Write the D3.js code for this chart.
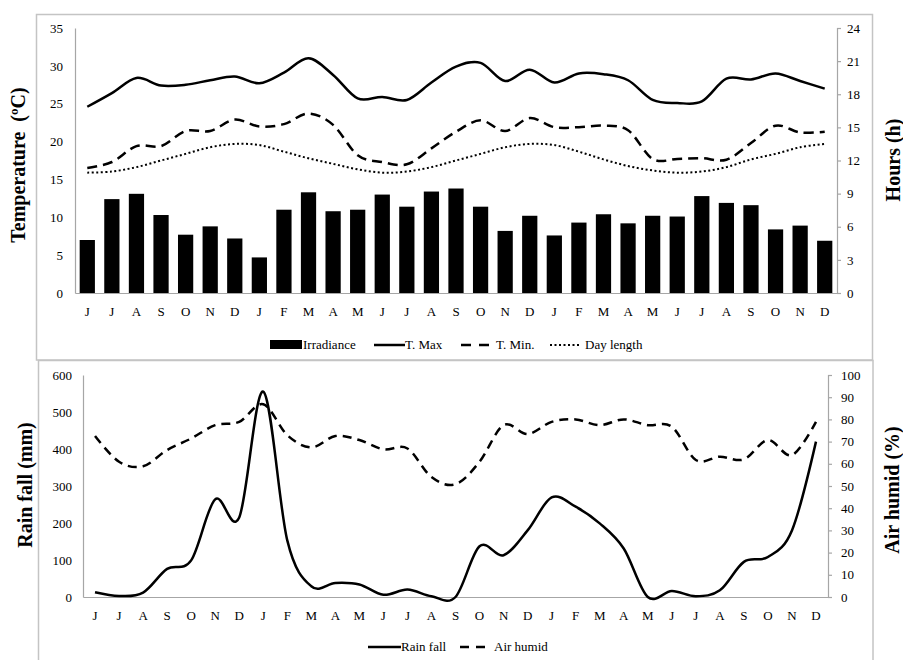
<!DOCTYPE html>
<html>
<head>
<meta charset="utf-8">
<script src="https://cdn.jsdelivr.net/npm/d3@7"></script>
<style>
body{margin:0;background:#fff;}
text{font-family:"Liberation Serif","Times New Roman",serif;fill:#000;}
</style>
</head>
<body>
<svg id="chart" width="903" height="660"></svg>
<script>
const months = ["J","J","A","S","O","N","D","J","F","M","A","M","J","J","A","S","O","N","D","J","F","M","A","M","J","J","A","S","O","N","D"];
const irradiance = [7.0,12.4,13.1,10.3,7.7,8.8,7.2,4.7,11.0,13.3,10.8,11.0,13.0,11.4,13.4,13.8,11.4,8.2,10.2,7.6,9.3,10.4,9.2,10.2,10.1,12.8,11.9,11.6,8.4,8.9,6.9];
const tMax = [24.6,26.4,28.4,27.4,27.5,28.1,28.6,27.7,29.1,31.0,28.8,25.7,25.9,25.5,27.8,29.9,30.4,28.0,29.5,27.8,29.0,28.9,28.1,25.5,25.1,25.3,28.3,28.2,29.0,28.0,27.0];
const tMin = [16.5,17.3,19.4,19.4,21.4,21.4,22.9,22.0,22.3,23.7,22.2,18.2,17.3,17.0,19.1,21.3,22.8,21.4,23.1,21.9,21.9,22.1,21.5,17.7,17.7,17.8,17.6,19.8,22.1,21.2,21.3];
const dayLength = [10.9,11.0,11.4,12.0,12.6,13.2,13.5,13.4,12.8,12.2,11.7,11.2,10.9,11.0,11.4,12.0,12.6,13.2,13.5,13.4,12.8,12.1,11.5,11.1,10.9,11.0,11.4,12.1,12.6,13.2,13.5];
const rainFall = [13,3,12,76,99,264,215,555,153,29,38,34,6,20,2,0,137,113,180,269,244,199,131,0,16,2,18,95,108,180,420];
const airHumid = [72.5,60.9,58.9,66.2,71.4,77.4,78.9,86.8,72.9,67.4,72.5,70.7,66.5,66.9,54,50.8,60.9,77.4,73.4,78.9,80,77.4,80,77.4,76.7,61.7,63.2,62,70.7,63.9,78.9];
const tempTicks = [0,5,10,15,20,25,30,35];
const hourTicks = [0,3,6,9,12,15,18,21,24];
const rainTicks = [0,100,200,300,400,500,600];
const humidTicks = [0,10,20,30,40,50,60,70,80,90,100];

const svg = d3.select("#chart");
const idx = d3.range(months.length);
const frameColor = "#c4c4c4", axisColor = "#a6a6a6";

// frames
svg.append("rect").attr("x",36.5).attr("y",14.5).attr("width",836).attr("height",345.5)
  .attr("fill","none").attr("stroke",frameColor).attr("stroke-width",1.5);
svg.append("rect").attr("x",38.5).attr("y",360.5).attr("width",834.5).attr("height",310)
  .attr("fill","none").attr("stroke",frameColor).attr("stroke-width",1.5);

function styleAxis(g, tickLen){
  g.select(".domain").attr("stroke",axisColor).attr("stroke-width",1.2);
  g.selectAll(".tick line").attr("stroke",axisColor).attr("stroke-width",1.2);
  g.selectAll("text").style("font-family","'Liberation Serif',serif").style("font-size","13px").attr("fill","#000");
}

// ===== TOP CHART =====
const T = {l:75, r:837, t:28, b:293};
const xb = d3.scaleBand().domain(idx).range([T.l,T.r]).paddingInner(0.38).paddingOuter(0.19);
const xp = d3.scaleBand().domain(idx).range([T.l,T.r]);
const xc = i => xp(i) + xp.bandwidth()/2;
const yT = d3.scaleLinear().domain([0,35]).range([T.b,T.t]);
const yH = d3.scaleLinear().domain([0,24]).range([T.b,T.t]);

svg.append("g").selectAll("rect").data(irradiance).join("rect")
  .attr("x",(d,i)=>xb(i)).attr("width",xb.bandwidth())
  .attr("y",d=>yT(d)).attr("height",d=>yT(0)-yT(d)).attr("fill","#000");

const gL = svg.append("g").attr("transform",`translate(${T.l},0)`)
  .call(d3.axisLeft(yT).tickValues(tempTicks).tickSize(0).tickPadding(12));
styleAxis(gL);
const gR = svg.append("g").attr("transform",`translate(${T.r},0)`)
  .call(d3.axisRight(yH).tickValues(hourTicks).tickSize(4).tickSizeOuter(4).tickPadding(6));
styleAxis(gR);
const gB = svg.append("g").attr("transform",`translate(0,${T.b})`)
  .call(d3.axisBottom(xp).tickFormat(i=>months[i]).tickSize(0).tickPadding(14));
styleAxis(gB);
gB.selectAll("text").style("font-size","13px");

const curve = d3.curveCardinal;
const lineT = d3.line().x((d,i)=>xc(i)).y(d=>yT(d)).curve(curve);
const lineH = d3.line().x((d,i)=>xc(i)).y(d=>yH(d)).curve(curve);
svg.append("path").attr("d",lineT(tMax)).attr("fill","none").attr("stroke","#000").attr("stroke-width",2.5);
svg.append("path").attr("d",lineT(tMin)).attr("fill","none").attr("stroke","#000").attr("stroke-width",2.5).attr("stroke-dasharray","10,6");
svg.append("path").attr("d",lineH(dayLength)).attr("fill","none").attr("stroke","#000").attr("stroke-width",2).attr("stroke-dasharray","2,2.5");

svg.append("text").attr("transform","translate(25,165) rotate(-90)").attr("text-anchor","middle")
  .style("font-size","20px").style("font-weight","bold").attr("xml:space","preserve").text("Temperature  (ºC)");
svg.append("text").attr("transform","translate(900,160) rotate(-90)").attr("text-anchor","middle")
  .style("font-size","20px").style("font-weight","bold").text("Hours (h)");

// top legend
const lg = svg.append("g").style("font-size","13px");
lg.append("rect").attr("x",270).attr("y",340).attr("width",32).attr("height",9).attr("fill","#000");
lg.append("text").attr("x",303).attr("y",349).text("Irradiance");
lg.append("line").attr("x1",374).attr("x2",405).attr("y1",345).attr("y2",345).attr("stroke","#000").attr("stroke-width",2.5);
lg.append("text").attr("x",405).attr("y",349).text("T. Max");
lg.append("line").attr("x1",461).attr("x2",491).attr("y1",345).attr("y2",345).attr("stroke","#000").attr("stroke-width",2.5).attr("stroke-dasharray","10,8");
lg.append("text").attr("x",496).attr("y",349).text("T. Min.");
lg.append("line").attr("x1",550).attr("x2",579).attr("y1",345).attr("y2",345).attr("stroke","#000").attr("stroke-width",2).attr("stroke-dasharray","2,2.5");
lg.append("text").attr("x",585).attr("y",349).text("Day length");

// ===== BOTTOM CHART =====
const B = {l:83, r:828, t:375, b:597};
const xp2 = d3.scaleBand().domain(idx).range([B.l,B.r]);
const xc2 = i => xp2(i) + xp2.bandwidth()/2;
const yR = d3.scaleLinear().domain([0,600]).range([B.b,B.t]);
const yA = d3.scaleLinear().domain([0,100]).range([B.b,B.t]);

const gL2 = svg.append("g").attr("transform",`translate(${B.l},0)`)
  .call(d3.axisLeft(yR).tickValues(rainTicks).tickSize(0).tickPadding(11));
styleAxis(gL2);
const gR2 = svg.append("g").attr("transform",`translate(${B.r},0)`)
  .call(d3.axisRight(yA).tickValues(humidTicks).tickSize(4).tickSizeOuter(4).tickPadding(9));
styleAxis(gR2);
const gB2 = svg.append("g").attr("transform",`translate(0,${B.b})`)
  .call(d3.axisBottom(xp2).tickFormat(i=>months[i]).tickSize(0).tickPadding(14));
styleAxis(gB2);

const lineR = d3.line().x((d,i)=>xc2(i)).y(d=>yR(d)).curve(curve);
const lineA = d3.line().x((d,i)=>xc2(i)).y(d=>yA(d)).curve(curve);
svg.append("path").attr("d",lineR(rainFall)).attr("fill","none").attr("stroke","#000").attr("stroke-width",2.5);
svg.append("path").attr("d",lineA(airHumid)).attr("fill","none").attr("stroke","#000").attr("stroke-width",2.5).attr("stroke-dasharray","9,6");

svg.append("text").attr("transform","translate(32,485) rotate(-90)").attr("text-anchor","middle")
  .style("font-size","20px").style("font-weight","bold").text("Rain fall (mm)");
svg.append("text").attr("transform","translate(899,490) rotate(-90)").attr("text-anchor","middle")
  .style("font-size","20px").style("font-weight","bold").text("Air humid (%)");

const lg2 = svg.append("g").style("font-size","13px");
lg2.append("line").attr("x1",368).attr("x2",401).attr("y1",647).attr("y2",647).attr("stroke","#000").attr("stroke-width",2.5);
lg2.append("text").attr("x",401).attr("y",651).text("Rain fall");
lg2.append("line").attr("x1",460).attr("x2",489).attr("y1",647).attr("y2",647).attr("stroke","#000").attr("stroke-width",2.5).attr("stroke-dasharray","9,7");
lg2.append("text").attr("x",494).attr("y",651).text("Air humid");
</script>
</body>
</html>
